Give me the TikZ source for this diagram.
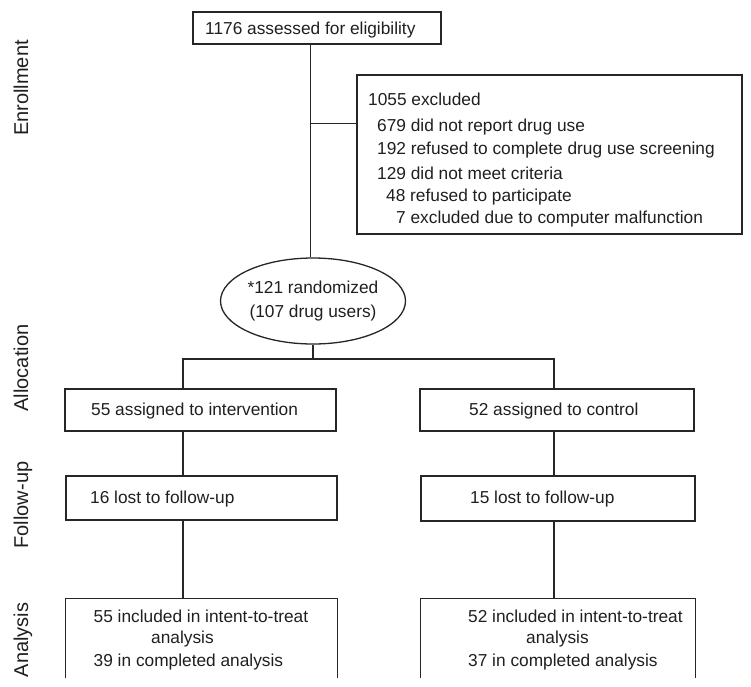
\documentclass[tikz,border=0pt]{standalone}
\usepackage{fontspec}
\setmainfont{Liberation Sans}
\usetikzlibrary{shapes.geometric}
\begin{document}
\begin{tikzpicture}[x=1pt,y=-1pt,
  every node/.style={font=\fontsize{17.3}{24}\selectfont, text=black!88, inner sep=0pt},
  box/.style={draw=black!85, line width=1.3pt, rectangle},
  conn/.style={draw=black!85, line width=1.3pt},
  txt/.style={anchor=base west},
  phase/.style={rotate=90, anchor=base, font=\fontsize{20}{24}\selectfont}]
\useasboundingbox (0,0) rectangle (751,686);
% phase labels
\node[phase] (pEnr) at (28,88) {Enrollment};
\node[phase] (pAll) at (28,368) {Allocation};
\node[phase] (pFol) at (28,505) {Follow-up};
\node[phase] (pAna) at (28,640) {Analysis};
% top box
\node[box, minimum width=248pt, minimum height=32pt] (top) at (317,28) {};
\node[txt] (topt) at (205,34) {1176 assessed for eligibility};
% excluded box
\node[box, minimum width=385pt, minimum height=159pt] (excl) at (549.5,154.5) {};
\node[txt] (ex1) at (368,105) {1055 excluded};
\node[txt] (ex2) at (377,131) {679 did not report drug use};
\node[txt] (ex3) at (377,154) {192 refused to complete drug use screening};
\node[txt] (ex4) at (377,179) {129 did not meet criteria};
\node[txt] (ex5) at (386,201) {48 refused to participate};
\node[txt] (ex6) at (396,223) {7 excluded due to computer malfunction};
% randomized
\node[draw=black!85, line width=1.3pt, ellipse, minimum width=182pt, minimum height=86pt, align=center] (rand) at (313,301) {*121 randomized\\(107 drug users)};
% allocation boxes
\node[box, minimum width=271pt, minimum height=42pt] (intv) at (200.5,410) {};
\node[txt] (intvt) at (91,415) {55 assigned to intervention};
\node[box, minimum width=274pt, minimum height=42pt] (ctrl) at (557,410) {};
\node[txt] (ctrlt) at (469,415) {52 assigned to control};
% follow-up boxes
\node[box, minimum width=271pt, minimum height=44pt] (lostL) at (201.5,498) {};
\node[txt] (lostLt) at (90,503) {16 lost to follow-up};
\node[box, minimum width=274pt, minimum height=45pt] (lostR) at (558,498.5) {};
\node[txt] (lostRt) at (470,503) {15 lost to follow-up};
% analysis boxes (open at the bottom)
\node[minimum width=271pt, minimum height=79pt] (anaL) at (201.5,638.5) {};
\draw[conn] (anaL.south west) -- (anaL.north west) -- (anaL.north east) -- (anaL.south east);
\node[txt] (aL1) at (93.5,622) {55 included in intent-to-treat};
\node[txt] (aL2) at (151,643) {analysis};
\node[txt] (aL3) at (93.5,666) {39 in completed analysis};
\node[minimum width=274pt, minimum height=79pt] (anaR) at (558,638.5) {};
\draw[conn] (anaR.south west) -- (anaR.north west) -- (anaR.north east) -- (anaR.south east);
\node[txt] (aR1) at (468,622) {52 included in intent-to-treat};
\node[txt] (aR2) at (526,643) {analysis};
\node[txt] (aR3) at (468,666) {37 in completed analysis};
% connectors
\coordinate (j1) at (310.5,123.5);
\draw[conn] (top.south -| j1) -- (j1 |- rand.north);
\draw[conn] (j1) -- (j1 -| excl.west);
\coordinate (jL) at (183,359);
\coordinate (jR) at (554,359);
\draw[conn] (rand.south) -- (rand.south |- jL);
\draw[conn] (intv.north -| jL) -- (jL) -- (jR) -- (ctrl.north -| jR);
\draw[conn] (intv.south -| jL) -- (lostL.north -| jL);
\draw[conn] (lostL.south -| jL) -- (anaL.north -| jL);
\draw[conn] (ctrl.south -| jR) -- (lostR.north -| jR);
\draw[conn] (lostR.south -| jR) -- (anaR.north -| jR);
\end{tikzpicture}
\end{document}
